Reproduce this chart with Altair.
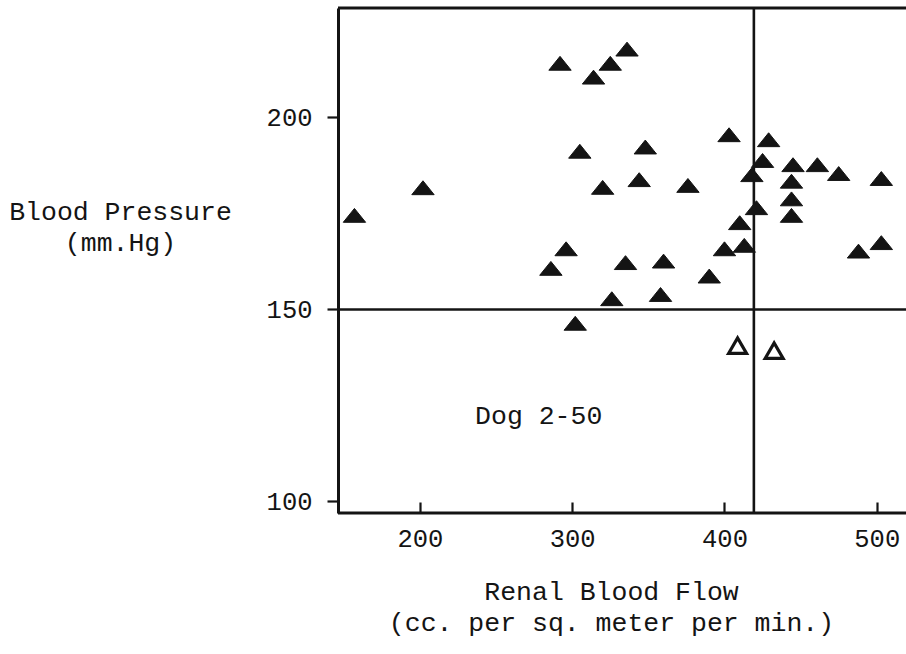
import altair as alt
import pandas as pd

# Filled triangles (Renal Blood Flow, Blood Pressure)
FLOW_FILLED = [157, 202, 286, 292, 296, 302, 305, 314, 320, 325, 326, 335,
               336, 344, 348, 358, 360, 376, 390, 400, 403, 410, 413, 418,
               421, 425, 429, 444, 444, 444, 445, 461, 475, 488, 503, 503]
BP_FILLED = [174.5, 181.7, 160.7, 214.1, 165.8, 146.4, 191.2, 210.5, 181.8, 214.1, 152.8, 162.2,
             217.8, 183.8, 192.3, 153.9, 162.6, 182.3, 158.7, 165.8, 195.5, 172.6, 166.7, 185.1,
             176.5, 188.8, 194.2, 178.8, 174.5, 183.4, 187.7, 187.7, 185.4, 165.2, 167.4, 184.1]
# Open triangles
FLOW_OPEN = [408.6, 432.6]
BP_OPEN = [140.5, 139.2]

X_TICKS = [200, 300, 400, 500]
Y_TICKS = [150, 200]
Y_LABELS = [100, 150, 200]
X_DOMAIN = [146.2, 519.2]
Y_DOMAIN = [97.0, 228.5]
REF_FLOW = 419.3
REF_BP = 150
LABEL_TEXT = "Dog 2-50"
LABEL_FLOW = 278
LABEL_BP = 122.3

FONT = "Liberation Mono"
INK = "#141414"

df_f = pd.DataFrame({"flow": FLOW_FILLED, "bp": BP_FILLED})
df_o = pd.DataFrame({"flow": FLOW_OPEN, "bp": BP_OPEN})

xscale = alt.Scale(domain=X_DOMAIN, nice=False, zero=False)
yscale = alt.Scale(domain=Y_DOMAIN, nice=False, zero=False)

xaxis = alt.Axis(
    orient="bottom", values=X_TICKS, offset=-11, domain=False, grid=False,
    ticks=True, tickSize=11, tickWidth=2.2, tickColor=INK,
    labelFont=FONT, labelFontSize=25.5, labelColor=INK, labelPadding=13,
    title=["Renal Blood Flow", "(cc. per sq. meter per min.)"],
    titleFont=FONT, titleFontSize=26.5, titleFontWeight="normal", titleColor=INK,
    titleAlign="center", titleAnchor="start", titleBaseline="alphabetic",
    titleX=273, titleY=97, titleLineHeight=31,
)
yaxis = alt.Axis(
    orient="left", values=Y_LABELS, domain=True, domainWidth=3, domainColor=INK,
    grid=False, ticks=True, tickSize=11, tickWidth=2.2, tickColor=INK,
    labelFont=FONT, labelFontSize=25.5, labelColor=INK, labelPadding=15,
    title=["Blood Pressure", "(mm.Hg)"],
    titleFont=FONT, titleFontSize=26.5, titleFontWeight="normal", titleColor=INK,
    titleAngle=0, titleAlign="center", titleAnchor="start", titleBaseline="alphabetic",
    titleX=-218, titleY=211, titleLineHeight=31,
)

X = alt.X("flow:Q", scale=xscale, axis=xaxis)
Y = alt.Y("bp:Q", scale=yscale, axis=yaxis)

filled_shape = "M-1,0.62L0,-0.62L1,0.62Z"
open_shape = "M-0.9,0.75L0,-0.8L0.9,0.75Z"

filled = alt.Chart(df_f).mark_point(
    shape=filled_shape, filled=True, size=500, color=INK, opacity=1,
    stroke=INK, strokeWidth=1,
).encode(x=X, y=Y)

opened = alt.Chart(df_o).mark_point(
    shape=open_shape, filled=False, size=400, color=INK, opacity=1, strokeWidth=3.2,
).encode(x=X, y=Y)

top_border = alt.Chart().mark_rule(color=INK, strokeWidth=3).encode(
    y=alt.YDatum(Y_DOMAIN[1], scale=yscale, axis=yaxis))
bottom_border = alt.Chart().mark_rule(color=INK, strokeWidth=3).encode(
    y=alt.YDatum(Y_DOMAIN[0], scale=yscale, axis=yaxis))
ref_v = alt.Chart().mark_rule(color=INK, strokeWidth=2.6).encode(
    x=alt.XDatum(REF_FLOW, scale=xscale, axis=xaxis))
ref_h = alt.Chart().mark_rule(color=INK, strokeWidth=2.6).encode(
    y=alt.YDatum(REF_BP, scale=yscale, axis=yaxis))

label = alt.Chart().mark_text(
    font=FONT, fontSize=26.5, color=INK, align="center", baseline="middle",
).encode(
    x=alt.XDatum(LABEL_FLOW, scale=xscale, axis=xaxis),
    y=alt.YDatum(LABEL_BP, scale=yscale, axis=yaxis),
    text=alt.value(LABEL_TEXT),
)

chart = alt.layer(
    top_border, bottom_border, ref_v, ref_h, label, filled, opened
).properties(
    width=568, height=505,
    autosize=alt.AutoSizeParams(type="none"),
    padding={"left": 338, "top": 8, "right": 0, "bottom": 141},
    background="white",
).configure_view(stroke=None)

chart.save("out.html", embed_options={"renderer": "svg", "actions": False})
